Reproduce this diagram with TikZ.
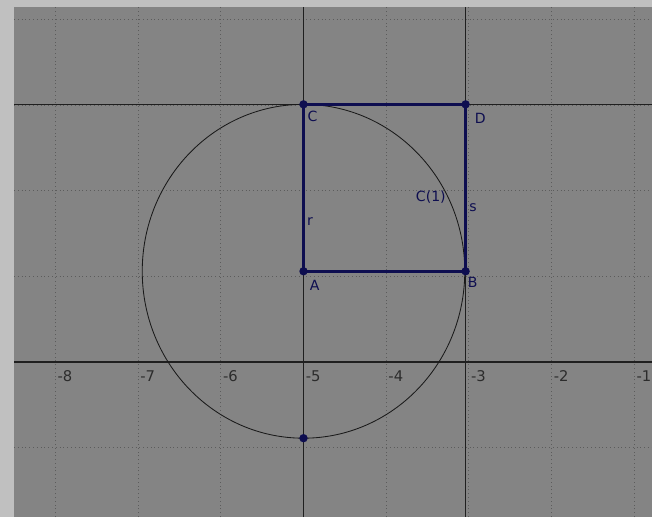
\documentclass[tikz,border=0pt]{standalone}
\usepackage{fontspec}
\setmainfont{DejaVu Sans}
\definecolor{MyOuterGray}{RGB}{192,192,192}
\definecolor{MyPlotGray}{RGB}{132,132,132}
\definecolor{MyGridGray}{RGB}{92,92,92}
\definecolor{MyNavy}{RGB}{14,14,80}
\definecolor{MyTickGray}{RGB}{44,44,44}
\usepackage{tikz}
\usetikzlibrary{positioning}

\begin{document}
\begin{tikzpicture}[x=2.0675cm, y=2.14cm,
every node/.style={font=\fontsize{10}{12}\selectfont},
griddot/.style={MyGridGray,dotted,line width=0.7pt},
axisline/.style={black!88,line width=0.8pt},
sideline/.style={MyNavy,line width=2.2pt},
circline/.style={black!90,line width=0.6pt},
pt/.style={circle,fill=MyNavy,inner sep=0pt,minimum size=2.1mm},
ptname/.style={MyNavy,inner sep=0pt},
ticklbl/.style={MyTickGray,inner sep=0pt,anchor=north west,font=\fontsize{10.5}{12}\selectfont}]
% frame and plot area
\useasboundingbox (-8.67,-1.811) rectangle (-0.786,4.229);
\fill[MyOuterGray] (-8.67,-1.811) rectangle (-0.786,4.229);
\coordinate (NW) at (-8.5,4.147);
\coordinate (SE) at (-0.786,-1.811);
\fill[MyPlotGray] (NW) rectangle (SE);
% dotted grid
\foreach \gx in {-8,...,-1}
  \draw[griddot] (\gx,-1.811) -- (\gx,4.147);
\foreach \gy in {-1,...,4}
  \draw[griddot] (-8.5,\gy) -- (-0.786,\gy);
% points
\coordinate (A) at (-5,1.06);
\coordinate (B) at (-3.04,1.06);
\coordinate (C) at (-5,3.01);
\coordinate (D) at (-3.04,3.01);
\coordinate (E) at (-5,-0.89);
\coordinate (X) at (-5,0);
% lines and axis
\draw[axisline] (NW |- X) -- (SE |- X);
\draw[axisline] (NW |- C) -- (SE |- C);
\draw[axisline] (NW -| C) -- (SE -| C);
\draw[axisline] (NW -| D) -- (SE -| D);
\foreach \x in {-8,...,-1}
  \node[ticklbl] (tick\x) at ([xshift=1.4pt,yshift=-5.7pt]\x,0) {\x};
% circle c(1)
\draw[circline] (A) circle[radius=1.95];
\node[ptname] (c1) at (-3.46,1.93) {C(1)};
% square
\draw[sideline] (A) -- (B);
\draw[sideline] (B) -- node[pos=0.38,right=1.5pt,ptname] (s) {s} (D);
\draw[sideline] (D) -- (C);
\draw[sideline] (C) -- node[pos=0.70,right=1.5pt,ptname] (r) {r} (A);
\node[pt] (ptA) at (A) {};
\node[pt] (ptB) at (B) {};
\node[pt] (ptC) at (C) {};
\node[pt] (ptD) at (D) {};
\node[pt] (ptE) at (E) {};
\node[ptname, below right=6.4pt and 4.3pt of A] (labA) {A};
\node[ptname, below right=4.3pt and 1.4pt of B] (labB) {B};
\node[ptname, below right=4.3pt and 2.8pt of C] (labC) {C};
\node[ptname, below right=6.4pt and 6.4pt of D] (labD) {D};
\end{tikzpicture}
\end{document}
